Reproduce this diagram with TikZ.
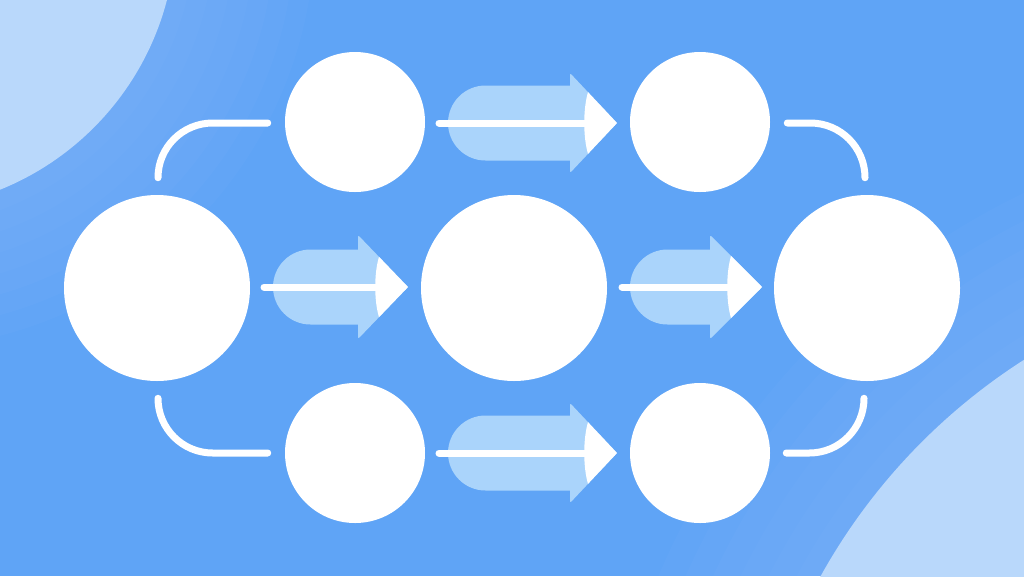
\documentclass[tikz,border=0pt]{standalone}
\usetikzlibrary{calc}
\definecolor{bgblue}{HTML}{5FA4F6}
\definecolor{cornerc}{HTML}{B9D8FB}
\definecolor{pillc}{HTML}{AAD4FB}
\tikzset{
  bigc/.style={circle, fill=white, minimum size=139.5pt, inner sep=0pt},
  smallc/.style={circle, fill=white, minimum size=105pt, inner sep=0pt},
  link/.style={draw=white, line width=5.25pt, line cap=round, rounded corners=41pt},
  shaft/.style={draw=white, line width=5.25pt, line cap=round},
  halo/.style={fill=white, opacity=0.018},
}
% #1 pill left x, #2 head back x, #3 tip x, #4 y, #5 head half height, #6 line start x, #7 white start x
\newcommand\flowarrow[7]{%
  \fill[pillc] (#2+2,#4-37.5) -- (#1+37.5,#4-37.5) arc[start angle=270, end angle=90, radius=37.5] -- (#2+2,#4+37.5) -- cycle;
  \fill[pillc, rounded corners=1.5pt] (#2,#4-#5) -- (#3,#4) -- (#2,#4+#5) -- cycle;
  \fill[white] (#7,{#4-#5*(#3-#7)/(#3-#2)}) .. controls (#7-5,#4-14) and (#7-5,#4+14) .. (#7,{#4+#5*(#3-#7)/(#3-#2)}) -- (#3,#4) -- cycle;
  \draw[shaft] (#6,#4) -- (#3-5,#4);
}
\begin{document}
\begin{tikzpicture}[x=0.75pt,y=-0.75pt]
\useasboundingbox (0,0) rectangle (1024,576);
\clip (0,0) rectangle (1024,576);
\fill[bgblue] (0,0) rectangle (1024,576);
% corner decorations
\foreach \r in {300,320,...,420} {\fill[halo] (-105,-71) circle (\r);}
\fill[cornerc] (-105,-71) circle (281);
\foreach \r in {625,650,...,750} {\fill[halo] (1349,869) circle (\r);}
\fill[cornerc] (1349,869) circle (604);
% nodes
\node[bigc] (L) at (157,288) {};
\node[bigc] (M) at (514,288) {};
\node[bigc] (R) at (867,288) {};
\node[smallc] (T1) at (355,122) {};
\node[smallc] (T2) at (700,122) {};
\node[smallc] (B1) at (355,453) {};
\node[smallc] (B2) at (700,453) {};
% arrows
\flowarrow{448}{570}{617}{123}{50}{439}{588}
\flowarrow{448}{570}{617}{453}{50}{439}{588}
\flowarrow{273}{358}{408}{287}{52}{264}{379}
\flowarrow{630}{710}{762}{287}{52}{622}{731}
% brackets
\draw[link] ($(L.north)+(1,-17)$) |- ($(T1.west)+(-17,1)$);
\draw[link] ($(T2.east)+(17,1)$) -| ($(R.north)+(-2,-17)$);
\draw[link] ($(L.south)+(1,17)$) |- ($(B1.west)+(-17,0)$);
\draw[link] ($(B2.east)+(16,0)$) -| ($(R.south)+(-3,17)$);
\end{tikzpicture}
\end{document}
